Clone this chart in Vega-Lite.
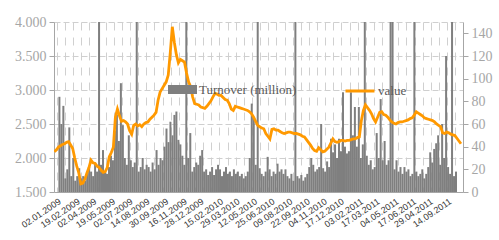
{
  "$schema": "https://vega.github.io/schema/vega-lite/v6.json",
  "width": 409,
  "height": 170,
  "autosize": {"type": "none"},
  "padding": {"left": 54, "top": 22, "right": 36, "bottom": 48},
  "background": "white",
  "data": {"values": [
    {"d":"2009-01-02","t":84,"v":2090},{"d":"2009-01-07","t":60,"v":2120},{"d":"2009-01-12","t":76,"v":2160},{"d":"2009-01-17","t":12,"v":2180},{"d":"2009-01-22","t":20,"v":2200},{"d":"2009-01-27","t":57,"v":2210},
    {"d":"2009-02-01","t":14,"v":2230},{"d":"2009-02-06","t":30,"v":2240},{"d":"2009-02-11","t":10,"v":2190},{"d":"2009-02-16","t":14,"v":2140},{"d":"2009-02-21","t":21,"v":2000},{"d":"2009-02-26","t":12,"v":1880},
    {"d":"2009-03-03","t":14,"v":1780},{"d":"2009-03-08","t":10,"v":1620},{"d":"2009-03-13","t":16,"v":1630},{"d":"2009-03-18","t":22,"v":1690},{"d":"2009-03-23","t":18,"v":1780},{"d":"2009-03-28","t":14,"v":1860},
    {"d":"2009-04-02","t":26,"v":1970},{"d":"2009-04-07","t":18,"v":1930},{"d":"2009-04-12","t":200,"v":1920},{"d":"2009-04-17","t":24,"v":1880},{"d":"2009-04-22","t":37,"v":1860},{"d":"2009-04-27","t":18,"v":1820},
    {"d":"2009-05-02","t":16,"v":1790},{"d":"2009-05-07","t":22,"v":1800},{"d":"2009-05-12","t":32,"v":1860},{"d":"2009-05-17","t":28,"v":2020},{"d":"2009-05-22","t":54,"v":2080},{"d":"2009-05-27","t":68,"v":2160},
    {"d":"2009-06-01","t":45,"v":2600},{"d":"2009-06-06","t":96,"v":2720},{"d":"2009-06-11","t":59,"v":2620},{"d":"2009-06-16","t":30,"v":2540},{"d":"2009-06-21","t":24,"v":2550},{"d":"2009-06-26","t":50,"v":2530},
    {"d":"2009-07-01","t":28,"v":2500},{"d":"2009-07-06","t":22,"v":2400},{"d":"2009-07-11","t":26,"v":2350},{"d":"2009-07-16","t":200,"v":2480},{"d":"2009-07-21","t":18,"v":2500},{"d":"2009-07-26","t":22,"v":2470},{"d":"2009-07-31","t":30,"v":2490},
    {"d":"2009-08-05","t":20,"v":2460},{"d":"2009-08-10","t":24,"v":2500},{"d":"2009-08-15","t":22,"v":2520},{"d":"2009-08-20","t":18,"v":2530},{"d":"2009-08-25","t":26,"v":2570},{"d":"2009-08-30","t":20,"v":2600},
    {"d":"2009-09-04","t":37,"v":2630},{"d":"2009-09-09","t":24,"v":2670},{"d":"2009-09-14","t":30,"v":2850},{"d":"2009-09-19","t":28,"v":2970},{"d":"2009-09-24","t":40,"v":3020},{"d":"2009-09-29","t":56,"v":3070},
    {"d":"2009-10-04","t":44,"v":3120},{"d":"2009-10-09","t":62,"v":3220},{"d":"2009-10-14","t":50,"v":3550},{"d":"2009-10-19","t":68,"v":3930},{"d":"2009-10-24","t":71,"v":3700},{"d":"2009-10-29","t":46,"v":3520},
    {"d":"2009-11-03","t":42,"v":3400},{"d":"2009-11-08","t":32,"v":3450},{"d":"2009-11-13","t":24,"v":3430},{"d":"2009-11-18","t":200,"v":3410},{"d":"2009-11-23","t":30,"v":3250},{"d":"2009-11-28","t":52,"v":3120},
    {"d":"2009-12-03","t":18,"v":3050},{"d":"2009-12-08","t":22,"v":2900},{"d":"2009-12-13","t":26,"v":2800},{"d":"2009-12-18","t":24,"v":2790},{"d":"2009-12-23","t":32,"v":2780},{"d":"2009-12-28","t":37,"v":2750},
    {"d":"2010-01-02","t":18,"v":2740},{"d":"2010-01-07","t":20,"v":2730},{"d":"2010-01-12","t":15,"v":2760},{"d":"2010-01-17","t":18,"v":2800},{"d":"2010-01-22","t":22,"v":2840},{"d":"2010-01-27","t":15,"v":2900},
    {"d":"2010-02-01","t":20,"v":2950},{"d":"2010-02-06","t":24,"v":2940},{"d":"2010-02-11","t":20,"v":2920},{"d":"2010-02-16","t":14,"v":2920},{"d":"2010-02-21","t":18,"v":2890},{"d":"2010-02-26","t":22,"v":2860},
    {"d":"2010-03-03","t":16,"v":2850},{"d":"2010-03-08","t":18,"v":2800},{"d":"2010-03-13","t":14,"v":2720},{"d":"2010-03-18","t":20,"v":2700},{"d":"2010-03-23","t":16,"v":2760},{"d":"2010-03-28","t":18,"v":2750},
    {"d":"2010-04-02","t":14,"v":2740},{"d":"2010-04-07","t":16,"v":2730},{"d":"2010-04-12","t":12,"v":2720},{"d":"2010-04-17","t":14,"v":2710},{"d":"2010-04-22","t":18,"v":2700},{"d":"2010-04-27","t":30,"v":2680},
    {"d":"2010-05-02","t":78,"v":2650},{"d":"2010-05-07","t":66,"v":2600},{"d":"2010-05-12","t":24,"v":2540},{"d":"2010-05-17","t":200,"v":2480},{"d":"2010-05-22","t":21,"v":2460},{"d":"2010-05-27","t":16,"v":2440},
    {"d":"2010-06-01","t":14,"v":2430},{"d":"2010-06-06","t":18,"v":2360},{"d":"2010-06-11","t":31,"v":2320},{"d":"2010-06-16","t":20,"v":2280},{"d":"2010-06-21","t":14,"v":2420},{"d":"2010-06-26","t":18,"v":2430},
    {"d":"2010-07-01","t":16,"v":2410},{"d":"2010-07-06","t":25,"v":2410},{"d":"2010-07-11","t":18,"v":2390},{"d":"2010-07-16","t":20,"v":2370},{"d":"2010-07-21","t":16,"v":2360},{"d":"2010-07-26","t":20,"v":2370},{"d":"2010-07-31","t":14,"v":2380},
    {"d":"2010-08-05","t":12,"v":2380},{"d":"2010-08-10","t":16,"v":2370},{"d":"2010-08-15","t":10,"v":2360},{"d":"2010-08-20","t":200,"v":2360},{"d":"2010-08-25","t":14,"v":2350},{"d":"2010-08-30","t":12,"v":2340},
    {"d":"2010-09-04","t":15,"v":2320},{"d":"2010-09-09","t":10,"v":2310},{"d":"2010-09-14","t":13,"v":2270},{"d":"2010-09-19","t":16,"v":2230},{"d":"2010-09-24","t":22,"v":2190},{"d":"2010-09-29","t":30,"v":2140},
    {"d":"2010-10-04","t":24,"v":2110},{"d":"2010-10-09","t":18,"v":2100},{"d":"2010-10-14","t":20,"v":2150},{"d":"2010-10-19","t":22,"v":2120},{"d":"2010-10-24","t":60,"v":2090},{"d":"2010-10-29","t":21,"v":2100},
    {"d":"2010-11-03","t":18,"v":2130},{"d":"2010-11-08","t":27,"v":2160},{"d":"2010-11-13","t":22,"v":2220},{"d":"2010-11-18","t":47,"v":2280},{"d":"2010-11-23","t":35,"v":2240},{"d":"2010-11-28","t":42,"v":2230},
    {"d":"2010-12-03","t":30,"v":2240},{"d":"2010-12-08","t":47,"v":2260},{"d":"2010-12-13","t":36,"v":2260},{"d":"2010-12-18","t":88,"v":2250},{"d":"2010-12-23","t":40,"v":2260},{"d":"2010-12-28","t":34,"v":2260},
    {"d":"2011-01-02","t":36,"v":2270},{"d":"2011-01-07","t":88,"v":2280},{"d":"2011-01-12","t":50,"v":2280},{"d":"2011-01-17","t":75,"v":2300},{"d":"2011-01-22","t":40,"v":2310},{"d":"2011-01-27","t":75,"v":2550},
    {"d":"2011-02-01","t":30,"v":2700},{"d":"2011-02-06","t":42,"v":2780},{"d":"2011-02-11","t":200,"v":2740},{"d":"2011-02-16","t":32,"v":2700},{"d":"2011-02-21","t":24,"v":2650},{"d":"2011-02-26","t":28,"v":2580},
    {"d":"2011-03-03","t":20,"v":2530},{"d":"2011-03-08","t":22,"v":2600},{"d":"2011-03-13","t":52,"v":2670},{"d":"2011-03-18","t":30,"v":2680},{"d":"2011-03-23","t":82,"v":2640},{"d":"2011-03-28","t":28,"v":2630},
    {"d":"2011-04-02","t":45,"v":2600},{"d":"2011-04-07","t":24,"v":2560},{"d":"2011-04-12","t":28,"v":2530},{"d":"2011-04-17","t":200,"v":2510},{"d":"2011-04-22","t":200,"v":2500},{"d":"2011-04-27","t":20,"v":2520},
    {"d":"2011-05-02","t":28,"v":2530},{"d":"2011-05-07","t":18,"v":2530},{"d":"2011-05-12","t":22,"v":2540},{"d":"2011-05-17","t":16,"v":2550},{"d":"2011-05-22","t":22,"v":2560},{"d":"2011-05-27","t":18,"v":2580},
    {"d":"2011-06-01","t":20,"v":2590},{"d":"2011-06-06","t":14,"v":2630},{"d":"2011-06-11","t":16,"v":2680},{"d":"2011-06-16","t":200,"v":2660},{"d":"2011-06-21","t":18,"v":2640},{"d":"2011-06-26","t":14,"v":2620},
    {"d":"2011-07-01","t":16,"v":2590},{"d":"2011-07-06","t":20,"v":2580},{"d":"2011-07-11","t":12,"v":2570},{"d":"2011-07-16","t":16,"v":2560},{"d":"2011-07-21","t":22,"v":2550},{"d":"2011-07-26","t":35,"v":2530},{"d":"2011-07-31","t":26,"v":2500},
    {"d":"2011-08-05","t":38,"v":2480},{"d":"2011-08-10","t":43,"v":2460},{"d":"2011-08-15","t":50,"v":2370},{"d":"2011-08-20","t":24,"v":2360},{"d":"2011-08-25","t":60,"v":2380},{"d":"2011-08-30","t":30,"v":2370},
    {"d":"2011-09-04","t":120,"v":2350},{"d":"2011-09-09","t":22,"v":2340},{"d":"2011-09-14","t":16,"v":2330},{"d":"2011-09-19","t":200,"v":2290},{"d":"2011-09-24","t":14,"v":2250},{"d":"2011-09-29","t":18,"v":2210}
  ]},
  "layer": [
    {
      "mark": {"type": "point", "opacity": 0},
      "encoding": {
        "x": {"field": "d", "type": "temporal",
          "scale": {"type": "utc", "domain": [{"year":2009,"month":1,"date":1,"utc":true},{"year":2011,"month":10,"date":4,"utc":true}]},
          "axis": {"orient": "bottom", "grid": true, "gridDash": [8, 7], "gridColor": "#d0d0d0", "gridWidth": 1,
            "labels": false, "ticks": false, "domain": false, "title": null,
            "values": [
              {"year":2009,"month":1,"date":8,"utc":true},{"year":2009,"month":1,"date":28,"utc":true},{"year":2009,"month":1,"date":48,"utc":true},{"year":2009,"month":1,"date":68,"utc":true},{"year":2009,"month":1,"date":88,"utc":true},
              {"year":2009,"month":1,"date":108,"utc":true},{"year":2009,"month":1,"date":128,"utc":true},{"year":2009,"month":1,"date":148,"utc":true},{"year":2009,"month":1,"date":168,"utc":true},{"year":2009,"month":1,"date":188,"utc":true},
              {"year":2009,"month":1,"date":208,"utc":true},{"year":2009,"month":1,"date":228,"utc":true},{"year":2009,"month":1,"date":248,"utc":true},{"year":2009,"month":1,"date":268,"utc":true},{"year":2009,"month":1,"date":288,"utc":true},
              {"year":2009,"month":1,"date":308,"utc":true},{"year":2009,"month":1,"date":328,"utc":true},{"year":2009,"month":1,"date":348,"utc":true},{"year":2009,"month":1,"date":368,"utc":true},{"year":2009,"month":1,"date":388,"utc":true},
              {"year":2009,"month":1,"date":408,"utc":true},{"year":2009,"month":1,"date":428,"utc":true},{"year":2009,"month":1,"date":448,"utc":true},{"year":2009,"month":1,"date":468,"utc":true},{"year":2009,"month":1,"date":488,"utc":true},
              {"year":2009,"month":1,"date":508,"utc":true},{"year":2009,"month":1,"date":528,"utc":true},{"year":2009,"month":1,"date":548,"utc":true},{"year":2009,"month":1,"date":568,"utc":true},{"year":2009,"month":1,"date":588,"utc":true},
              {"year":2009,"month":1,"date":608,"utc":true},{"year":2009,"month":1,"date":628,"utc":true},{"year":2009,"month":1,"date":648,"utc":true},{"year":2009,"month":1,"date":668,"utc":true},{"year":2009,"month":1,"date":688,"utc":true},
              {"year":2009,"month":1,"date":708,"utc":true},{"year":2009,"month":1,"date":728,"utc":true},{"year":2009,"month":1,"date":748,"utc":true},{"year":2009,"month":1,"date":768,"utc":true},{"year":2009,"month":1,"date":788,"utc":true},
              {"year":2009,"month":1,"date":808,"utc":true},{"year":2009,"month":1,"date":828,"utc":true},{"year":2009,"month":1,"date":848,"utc":true},{"year":2009,"month":1,"date":868,"utc":true},{"year":2009,"month":1,"date":888,"utc":true},
              {"year":2009,"month":1,"date":908,"utc":true},{"year":2009,"month":1,"date":928,"utc":true},{"year":2009,"month":1,"date":948,"utc":true},{"year":2009,"month":1,"date":968,"utc":true},{"year":2009,"month":1,"date":988,"utc":true}
            ]}},
        "y": {"field": "v", "type": "quantitative", "scale": {"domain": [1500, 4000]}, "axis": null}
      }
    },
    {
      "mark": {"type": "bar", "size": 2.0, "clip": true},
      "encoding": {
        "x": {"field": "d", "type": "temporal",
          "scale": {"type": "utc", "domain": [{"year":2009,"month":1,"date":1,"utc":true},{"year":2011,"month":10,"date":4,"utc":true}]},
          "axis": {"orient": "bottom", "grid": false, "ticks": false, "domain": true, "domainColor": "#a6a6a6", "title": null,
            "labelFont": "Liberation Sans", "labelFontSize": 9, "labelColor": "#333333", "labelAngle": -34, "labelAlign": "right", "labelBaseline": "middle",
            "labelPadding": 8, "labelOverlap": false, "labelFlush": false,
            "labelExpr": "utcyear(datum.value) == 2011 && utcmonth(datum.value) == 6 ? '29.04.2011' : utcFormat(datum.value, '%d.%m.%Y')",
            "values": [
              {"year":2009,"month":1,"date":2,"utc":true},{"year":2009,"month":2,"date":19,"utc":true},{"year":2009,"month":4,"date":2,"utc":true},{"year":2009,"month":5,"date":19,"utc":true},
              {"year":2009,"month":7,"date":2,"utc":true},{"year":2009,"month":8,"date":14,"utc":true},{"year":2009,"month":9,"date":30,"utc":true},{"year":2009,"month":11,"date":16,"utc":true},
              {"year":2009,"month":12,"date":28,"utc":true},{"year":2010,"month":2,"date":15,"utc":true},{"year":2010,"month":3,"date":29,"utc":true},{"year":2010,"month":5,"date":12,"utc":true},
              {"year":2010,"month":6,"date":25,"utc":true},{"year":2010,"month":8,"date":9,"utc":true},{"year":2010,"month":9,"date":22,"utc":true},{"year":2010,"month":11,"date":4,"utc":true},
              {"year":2010,"month":12,"date":17,"utc":true},{"year":2011,"month":2,"date":3,"utc":true},{"year":2011,"month":3,"date":17,"utc":true},{"year":2011,"month":5,"date":4,"utc":true},
              {"year":2011,"month":6,"date":17,"utc":true},{"year":2011,"month":7,"date":29,"utc":true},{"year":2011,"month":9,"date":14,"utc":true}
            ]}},
        "y": {"field": "t", "type": "quantitative", "scale": {"domain": [0, 150]},
          "axis": {"orient": "right", "values": [0, 20, 40, 60, 80, 100, 120, 140], "grid": false, "title": null,
            "labelFont": "Liberation Serif", "labelFontSize": 14, "labelColor": "#a6a6a6", "labelPadding": 3,
            "tickSize": 5, "tickColor": "#a6a6a6", "domainColor": "#a6a6a6"}},
        "color": {"datum": "Turnover (million)", "scale": {"range": ["#7f7f7f"]},
          "legend": {"orient": "none", "legendX": 114, "legendY": 53, "title": null,
            "symbolType": "M-1,-0.31H1V0.31H-1Z", "symbolSize": 841, "symbolStrokeWidth": 0,
            "labelFont": "Liberation Serif", "labelFontSize": 13, "labelColor": "#595959", "labelOffset": 2}}
      }
    },
    {
      "mark": {"type": "line", "strokeWidth": 2.8, "clip": true},
      "encoding": {
        "x": {"field": "d", "type": "temporal",
          "scale": {"type": "utc", "domain": [{"year":2009,"month":1,"date":1,"utc":true},{"year":2011,"month":10,"date":4,"utc":true}]},
          "axis": null},
        "y": {"field": "v", "type": "quantitative", "scale": {"domain": [1500, 4000]},
          "axis": {"orient": "left", "values": [1500, 2000, 2500, 3000, 3500, 4000], "title": null,
            "labelExpr": "replace(format(datum.value, ','), ',', '.')",
            "grid": true, "gridDash": [6, 3], "gridColor": "#cfcfcf",
            "labelFont": "Liberation Serif", "labelFontSize": 14, "labelColor": "#a6a6a6", "labelPadding": 3,
            "tickSize": 5, "tickColor": "#a6a6a6", "domainColor": "#a6a6a6"}},
        "stroke": {"datum": "value", "scale": {"range": ["#FF9900"]},
          "legend": {"orient": "none", "legendX": 290, "legendY": 53, "title": null,
            "symbolType": "stroke", "symbolSize": 841, "symbolStrokeWidth": 3,
            "labelFont": "Liberation Serif", "labelFontSize": 13, "labelColor": "#595959", "labelOffset": 2}}
      }
    }
  ],
  "resolve": {"scale": {"x": "independent", "y": "independent"}},
  "config": {"view": {"stroke": null}}
}
